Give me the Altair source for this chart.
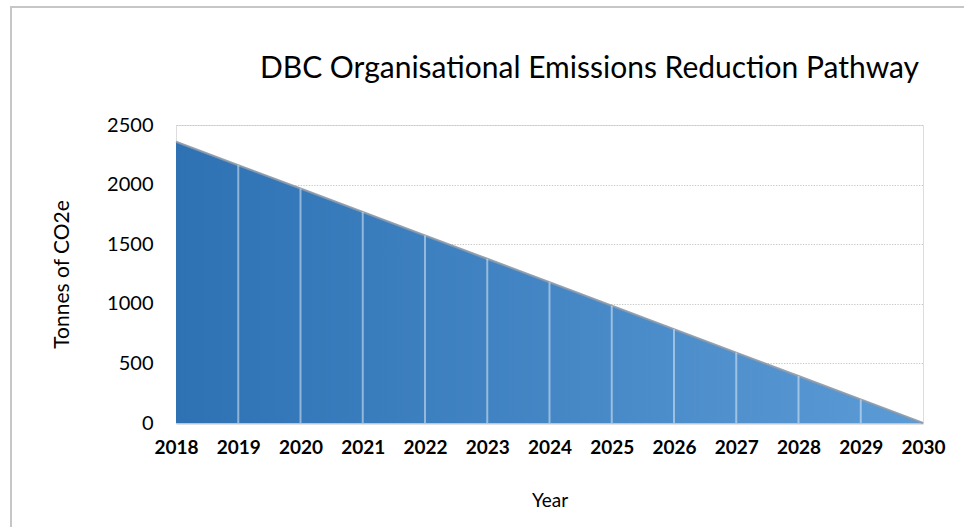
import altair as alt
import pandas as pd

# Reduction pathway, tonnes CO2e per year
years = [2018, 2019, 2020, 2021, 2022, 2023, 2024, 2025, 2026, 2027, 2028, 2029, 2030]
emissions = [2360, 2163, 1967, 1770, 1573, 1377, 1180, 983, 787, 590, 393, 197, 0]
y_ticks = [0, 500, 1000, 1500, 2000, 2500]

df = pd.DataFrame({"Year": years, "Emissions": emissions})
one = pd.DataFrame({"k": [0]})

FONT = "Lato"
W, H = 747, 298
PAD_L, PAD_T = 176, 125

x_enc = alt.X(
    "Year:Q",
    scale=alt.Scale(domain=[2018, 2030], nice=False, zero=False),
    axis=alt.Axis(
        values=years, format="d", title="Year", grid=False, ticks=False,
        domainColor="#c4c4c4", domainWidth=2,
        labelFont=FONT, labelFontSize=19, labelFontWeight="bold", labelColor="#000000",
        labelPadding=15, labelFlush=False, labelOverlap=False, labelBound=False,
        titleFont=FONT, titleFontSize=19, titleFontWeight="normal", titleColor="#000000",
        titleY=77, titleBaseline="middle",
    ),
)
y_enc = alt.Y(
    "Emissions:Q",
    scale=alt.Scale(domain=[0, 2500], nice=False),
    axis=alt.Axis(
        values=y_ticks, format="d", title="Tonnes of CO2e", domain=False, ticks=False,
        grid=True, gridColor="#c8c8c8", gridDash=[1.3, 1.4], gridWidth=1,
        labelFont=FONT, labelFontSize=20, labelColor="#000000", labelPadding=23,
        titleFont=FONT, titleFontSize=21, titleFontWeight="normal", titleColor="#000000",
        titleX=-114, titleY=H / 2, titleBaseline="middle", titleAngle=270,
    ),
)

area = alt.Chart(df).mark_area(
    color=alt.Gradient(
        gradient="linear",
        stops=[
            alt.GradientStop(color="#2E72B4", offset=0),
            alt.GradientStop(color="#5B9BD6", offset=1),
        ],
        x1=0, x2=1, y1=0, y2=0,
    )
).encode(x=x_enc, y=y_enc)

edge = alt.Chart(df).mark_line(color="#8a99ab", strokeWidth=2.2, opacity=0.9).encode(
    x="Year:Q", y="Emissions:Q"
)

dividers = (
    alt.Chart(df)
    .transform_filter("datum.Year > 2018 && datum.Year < 2030")
    .mark_rule(color="#ffffff", strokeWidth=2, opacity=0.45)
    .encode(x="Year:Q", y="Emissions:Q", y2=alt.datum(0))
)

frame_top = alt.Chart(one).mark_rule(color="#c6c6c6", strokeWidth=2).encode(
    x=alt.value(10 - PAD_L), x2=alt.value(964 - PAD_L), y=alt.value(7 - PAD_T)
)
frame_left = alt.Chart(one).mark_rule(color="#c6c6c6", strokeWidth=2).encode(
    x=alt.value(11 - PAD_L), y=alt.value(6 - PAD_T), y2=alt.value(527 - PAD_T)
)

chart = (
    alt.layer(area, edge, dividers, frame_top, frame_left)
    .properties(
        width=W,
        height=H,
        title=alt.TitleParams(
            "DBC Organisational Emissions Reduction Pathway",
            font=FONT, fontSize=30, fontWeight="normal", color="#000000",
            anchor="middle", frame="group", dx=40, baseline="middle", offset=-94,
        ),
        autosize=alt.AutoSizeParams(type="none"),
        padding={"left": PAD_L, "top": PAD_T, "right": 964 - PAD_L - W, "bottom": 527 - PAD_T - H},
    )
    .configure_view(stroke=None)
    .configure(background="#ffffff")
)

chart.save("out.html", embed_options={"renderer": "svg", "actions": False})
